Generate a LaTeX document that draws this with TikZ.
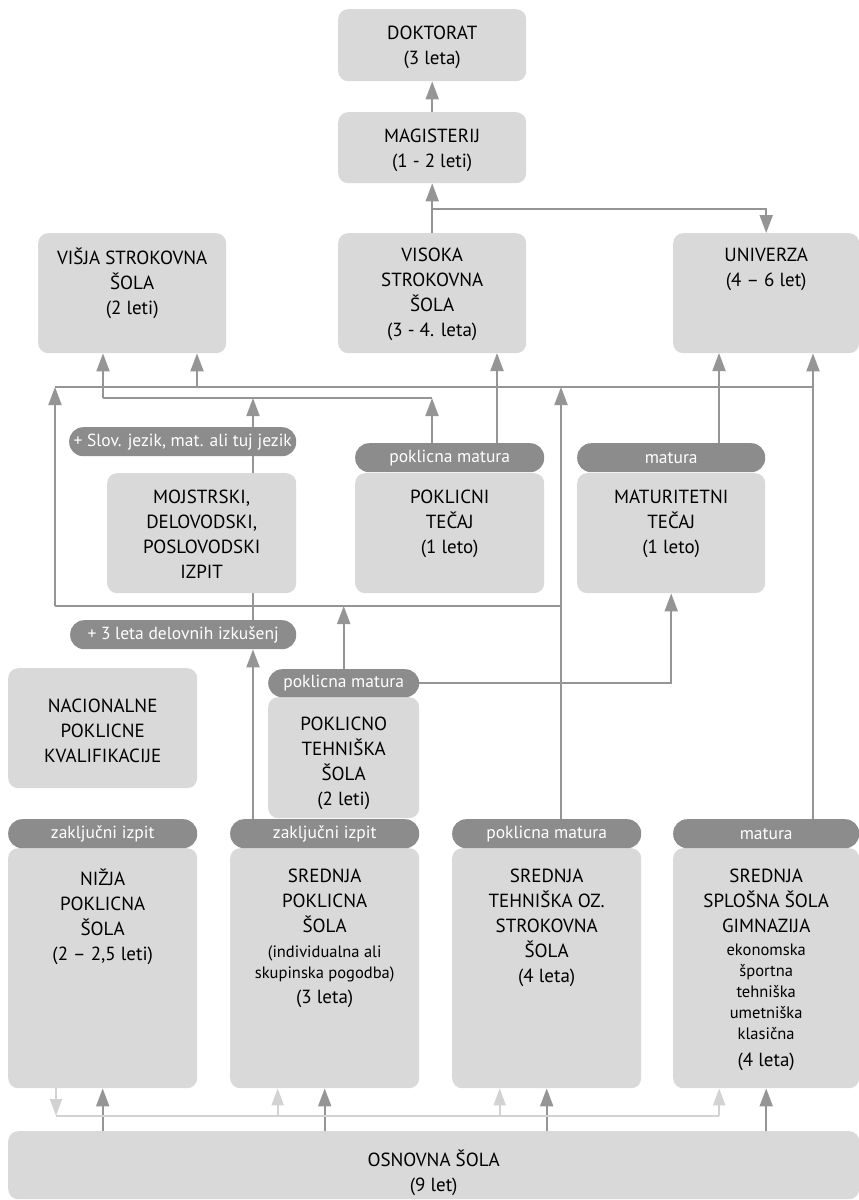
\documentclass[tikz,border=0pt]{standalone}
\usepackage{fontspec}
\setmainfont{PT Sans}
\usetikzlibrary{positioning,arrows.meta,backgrounds,calc}
\definecolor{boxgray}{HTML}{D9D9D9}
\definecolor{tabgray}{HTML}{8C8C8C}
\definecolor{linegray}{HTML}{959595}
\definecolor{lightline}{HTML}{D2D2D2}
\newcommand\boxfont{\fontsize{19}{25}\selectfont}
\newcommand\tabfont{\fontsize{17.5}{20}\selectfont}
\newcommand\smallfont{\fontsize{16.5}{21}\selectfont}
\begin{document}
\begin{tikzpicture}[x=1pt, y=-1pt,
                    box/.style={fill=boxgray, rounded corners=10pt, inner sep=0pt,
                                anchor=north west, minimum width=#1},
                    box/.default=188pt,
                    tab/.style={fill=tabgray, rounded corners=14pt, inner sep=0pt,
                                anchor=north west, minimum height=29pt, minimum width=#1,
                                text=white, font=\tabfont},
                    tab/.default=189pt,
                    txt/.style={align=center, inner sep=0pt, font=\boxfont},
                    con/.style={draw=linegray, line width=2pt},
                    arr/.style={con, -{Triangle[width=13pt,length=18pt]}},
                    lcon/.style={draw=lightline, line width=2pt},
                    larr/.style={lcon, -{Triangle[width=12pt,length=17pt]}}]
  \useasboundingbox (0,0) rectangle (859,1200);

  \node[box, minimum height=72pt] (dok) at (338,9) {};
  \node[txt, below=17pt of dok.north] (dok-t) {DOKTORAT\\(3 leta)};
  \node[box, minimum height=71pt] (mag) at (338,112) {};
  \node[txt, below=17pt of mag.north] (mag-t) {MAGISTERIJ\\(1 - 2 leti)};

  \node[box, minimum height=120pt] (visja) at (38,233) {};
  \node[txt, below=15pt of visja.north] (visja-t) {VIŠJA STROKOVNA\\ŠOLA\\(2 leti)};
  \node[box, minimum height=120pt] (visoka) at (338,233) {};
  \node[txt, below=15pt of visoka.north] (visoka-t) {VISOKA\\STROKOVNA\\ŠOLA\\(3 - 4. leta)};
  \node[box=186pt, minimum height=120pt] (univ) at (673,233) {};
  \node[txt, below=15pt of univ.north] (univ-t) {UNIVERZA\\(4 – 6 let)};

  \node[box=189pt, minimum height=120pt] (mojs) at (107,473) {};
  \node[txt, below=17pt of mojs.north] (mojs-t) {MOJSTRSKI,\\DELOVODSKI,\\POSLOVODSKI\\IZPIT};
  \node[tab=227pt] (slov) at (69,427) {+ Slov. jezik, mat. ali tuj jezik};
  \node[box=189pt, minimum height=120pt] (ptec) at (355,473) {};
  \node[txt, below=17pt of ptec.north] (ptec-t) {POKLICNI\\TEČAJ\\(1 leto)};
  \node[tab] (ptec-m) at (355,443) {poklicna matura};
  \node[box, minimum height=120pt] (mtec) at (577,473) {};
  \node[txt, below=17pt of mtec.north] (mtec-t) {MATURITETNI\\TEČAJ\\(1 leto)};
  \node[tab=188pt] (mtec-m) at (577,443) {matura};

  \node[tab=226pt] (izk) at (70,620) {+ 3 leta delovnih izkušenj};
  \node[box=189pt, minimum height=120pt] (nac) at (8,668) {};
  \node[txt, below=31pt of nac.north] (nac-t) {NACIONALNE\\POKLICNE\\KVALIFIKACIJE};
  \node[box=151pt, minimum height=121pt] (pts) at (268,697) {};
  \node[txt, below=20pt of pts.north] (pts-t) {POKLICNO\\TEHNIŠKA\\ŠOLA\\(2 leti)};
  \node[tab=151pt, minimum height=28pt] (pts-m) at (268,669) {poklicna matura};

  \node[box=189pt, minimum height=240pt] (nps) at (8,848) {};
  \node[txt, below=21pt of nps.north] (nps-t) {NIŽJA\\POKLICNA\\ŠOLA\\(2 – 2,5 leti)};
  \node[tab] (nps-m) at (8,819) {zaključni izpit};
  \node[box=189pt, minimum height=240pt] (sps) at (230,848) {};
  \node[txt, below=21pt of sps.north] (sps-t) {SREDNJA\\POKLICNA\\ŠOLA\\{\smallfont (individualna ali}\\[-4pt]{\smallfont skupinska pogodba)}\\(3 leta)};
  \node[tab] (sps-m) at (230,819) {zaključni izpit};
  \node[box=189pt, minimum height=240pt] (sts) at (452,848) {};
  \node[txt, below=21pt of sts.north] (sts-t) {SREDNJA\\TEHNIŠKA OZ.\\STROKOVNA\\ŠOLA\\(4 leta)};
  \node[tab] (sts-m) at (452,819) {poklicna matura};
  \node[box=186pt, minimum height=240pt] (gim) at (673,848) {};
  \node[txt, below=21pt of gim.north] (gim-t) {SREDNJA\\SPLOŠNA ŠOLA\\GIMNAZIJA\\[-2pt]{\smallfont ekonomska}\\[-4pt]{\smallfont športna}\\[-4pt]{\smallfont tehniška}\\[-4pt]{\smallfont umetniška}\\[-4pt]{\smallfont klasična}\\[2pt](4 leta)};
  \node[tab=186pt] (gim-m) at (673,819) {matura};

  \node[box=851pt, minimum height=68pt] (osn) at (8,1131) {};
  \node[txt, below=19pt of osn.north] (osn-t) {OSNOVNA ŠOLA\\(9 let)};

  \coordinate (vm) at (432,209);
  \coordinate (a1) at (55,606);
  \coordinate (a2) at (55,387);
  \coordinate (a3) at (813,387);
  \coordinate (a4) at (197,387);
  \coordinate (b1) at (103,398);
  \coordinate (b2) at (432,398);
  \coordinate (b3) at (253,398);
  \coordinate (c1) at (561,387);
  \coordinate (d1) at (497,353);
  \coordinate (e1) at (719,353);
  \coordinate (g1) at (56,1116);
  \coordinate (g2) at (719,1116);

  \begin{scope}[on background layer]
    \draw[arr] (visoka.north) -- (mag.south);
    \draw[arr] (mag.north) -- (dok.south);
    \draw[arr] (vm) -| (univ.north);
    \draw[arr] (a1) -- (a2);
    \draw[con] (a2) -- (a3);
    \draw[arr] (a4) -- (a4 |- visja.south);
    \draw[con] (b1) -- (b2);
    \draw[arr] (b1) -- (b1 |- visja.south);
    \draw[arr] (b2 |- ptec-m.north) -- (b2);
    \draw[arr] (b3 |- mojs.north) -- (b3);
    \draw[con] (b3 |- mojs.south) -- (b3 |- izk.north);
    \draw[arr] (b3 |- sps-m.north) -- (b3 |- izk.south);
    \draw[arr] (d1 |- ptec-m.north) -- (d1);
    \draw[arr] (e1 |- mtec-m.north) -- (e1);
    \draw[arr] (c1 |- sts-m.north) -- (c1);
    \draw[con] (a1) -- (c1 |- a1);
    \draw[arr] (a3 |- gim-m.north) -- (a3 |- univ.south);
    \draw[arr] (pts-m.north) -- (pts-m.north |- a1);
    \draw[arr] (pts-m.east) -| (mtec.south);
    \foreach \n in {nps,sps,sts,gim}
      \draw[arr] (osn.north -| \n.south) -- (\n.south);
    \draw[larr] (g1 |- nps.south) -- (g1);
    \draw[lcon] (g1) -- (g2);
    \foreach \n in {sps,sts,gim}
      \draw[larr] ($(\n.south)+(-47,28)$) -- ($(\n.south)+(-47,0)$);
  \end{scope}
\end{tikzpicture}
\end{document}
